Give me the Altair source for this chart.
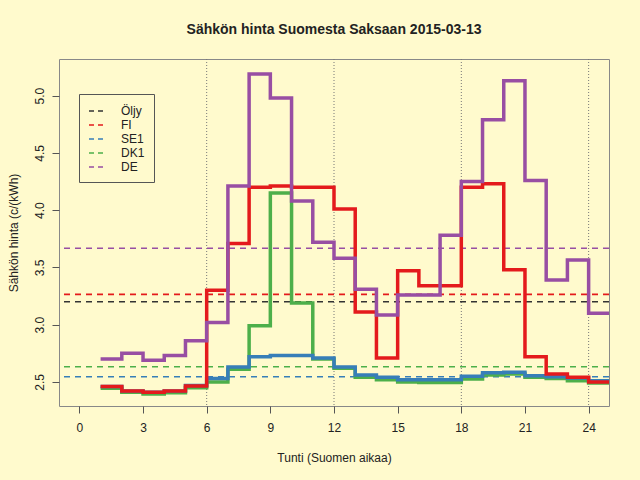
import altair as alt
import pandas as pd

# ---- data ----
hours = list(range(1, 26))  # 25 step points (last repeats hour 24)
series_order = ["Öljy", "FI", "SE1", "DK1", "DE"]
series_colors = ["#333333", "#E41A1C", "#377EB8", "#4DAF4A", "#984EA3"]

fi = [2.46, 2.42, 2.41, 2.42, 2.465, 3.30, 3.71, 4.20, 4.21, 4.20, 4.20, 4.01,
      3.11, 2.71, 3.47, 3.34, 3.34, 4.20, 4.23, 3.48, 2.72, 2.57, 2.54, 2.50, 2.50]
se1 = [2.46, 2.42, 2.41, 2.42, 2.47, 2.53, 2.63, 2.72, 2.73, 2.73, 2.71, 2.63,
       2.56, 2.54, 2.52, 2.52, 2.52, 2.55, 2.58, 2.585, 2.555, 2.545, 2.535, 2.51, 2.51]
dk1 = [2.445, 2.41, 2.395, 2.405, 2.45, 2.50, 2.61, 2.99, 4.15, 3.19, 2.70, 2.62,
       2.54, 2.52, 2.50, 2.495, 2.495, 2.525, 2.56, 2.57, 2.54, 2.53, 2.51, 2.49, 2.49]
de = [2.70, 2.75, 2.69, 2.73, 2.86, 3.02, 4.21, 5.19, 4.98, 4.08, 3.72, 3.58,
      3.31, 3.085, 3.26, 3.26, 3.78, 4.25, 4.79, 5.13, 4.26, 3.39, 3.565, 3.10, 3.10]

mean_series = ["Öljy", "FI", "SE1", "DK1", "DE"]
mean_values = [3.20, 3.265, 2.545, 2.633, 3.668]

grid_hours = [6, 12, 18, 24]
x_ticks = [0, 3, 6, 9, 12, 15, 18, 21, 24]
y_ticks = [2.5, 3.0, 3.5, 4.0, 4.5, 5.0]

title_text = "Sähkön hinta Suomesta Saksaan 2015-03-13"
x_title = "Tunti (Suomen aikaa)"
y_title = "Sähkön hinta (c/(kWh)"

# ---- tables ----
rows = []
for name, vals in [("FI", fi), ("SE1", se1), ("DK1", dk1), ("DE", de)]:
    for h, v in zip(hours, vals):
        rows.append({"series": name, "hour": h, "value": v})
lines_df = pd.DataFrame(rows)
means_df = pd.DataFrame({"series": mean_series, "value": mean_values})
grid_df = pd.DataFrame({"hour": grid_hours})

BG = "#FFFACD"
FONT = "Liberation Sans"

# page background (the 8px body margin) in the same colour as the chart
try:
    import altair.utils.html as _ah

    class _BgTemplate:
        def __init__(self, tpl):
            self.tpl = tpl

        def render(self, *args, **kwargs):
            html = self.tpl.render(*args, **kwargs)
            return html.replace(
                "<head>", "<head><style>body{background:%s;}</style>" % BG, 1
            )

    if not isinstance(_ah.TEMPLATES["standard"], _BgTemplate):
        _ah.TEMPLATES["standard"] = _BgTemplate(_ah.TEMPLATES["standard"])
except Exception:
    pass

xscale = alt.Scale(domain=[-0.96, 24.96], nice=False, zero=False)
yscale = alt.Scale(domain=[2.29, 5.32], nice=False, zero=False)
cscale = alt.Scale(domain=series_order, range=series_colors)

legend = alt.Legend(
    title=None, orient="none", legendX=20, legendY=35,
    symbolType="stroke", symbolDash=[5, 4], symbolStrokeWidth=1.6,
    symbolSize=196, labelFontSize=12, labelFont=FONT, labelColor="#222",
    labelOffset=17, rowPadding=0, padding=9,
    strokeColor="#555", fillColor=BG, labelLimit=200,
)

xaxis = alt.Axis(values=x_ticks, title=x_title, grid=False, domain=False,
                 tickSize=7, tickColor="#555", labelFontSize=12, labelPadding=9,
                 titleFontSize=12, titleFontWeight="normal", titlePadding=19,
                 labelFont=FONT, titleFont=FONT, labelColor="#222", titleColor="#222")
yaxis = alt.Axis(values=y_ticks, title=y_title, grid=False, domain=False, format=".1f",
                 tickSize=7, tickColor="#555", labelFontSize=12, labelPadding=6,
                 labelAngle=270, titleFontSize=12, titleFontWeight="normal",
                 titlePadding=13, labelFont=FONT, titleFont=FONT,
                 labelColor="#222", titleColor="#222")

grid = alt.Chart(grid_df).mark_rule(color="#777", strokeDash=[1, 2], strokeWidth=1).encode(
    x=alt.X("hour:Q", scale=xscale, axis=xaxis)
)

means = alt.Chart(means_df).mark_rule(strokeDash=[6, 5], strokeWidth=1.6).encode(
    y=alt.Y("value:Q", scale=yscale, axis=yaxis),
    color=alt.Color("series:N", scale=cscale, legend=legend, sort=series_order),
)

def step_layer(name):
    return alt.Chart(lines_df).transform_filter(
        alt.datum.series == name
    ).mark_line(interpolate="step-after", strokeWidth=3.5, clip=True,
                strokeJoin="miter").encode(
        x=alt.X("hour:Q", scale=xscale, axis=xaxis),
        y=alt.Y("value:Q", scale=yscale, axis=yaxis),
        color=alt.Color("series:N", scale=cscale, legend=legend, sort=series_order),
    )

chart = alt.layer(
    grid, means, step_layer("DK1"), step_layer("SE1"), step_layer("FI"), step_layer("DE")
).properties(
    width=550, height=347,
    title=alt.TitleParams(title_text, fontSize=14, fontWeight="bold", font=FONT,
                          color="#222", anchor="middle", offset=22),
    padding={"left": 51, "top": 51, "right": 23, "bottom": 66},
    autosize=alt.AutoSizeParams(type="none"),
    background=BG,
).configure_view(stroke="#888", strokeWidth=1)

chart.save("out.html", embed_options={"renderer": "svg", "actions": False})
